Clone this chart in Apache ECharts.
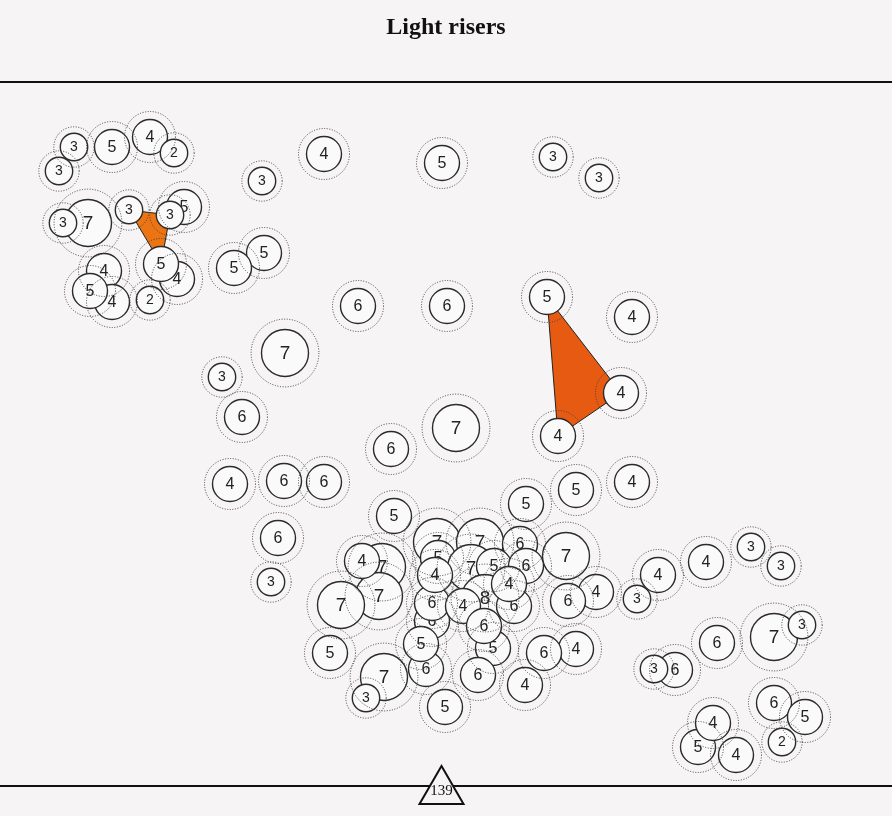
<!DOCTYPE html>
<html>
<head>
<meta charset="utf-8">
<script src="https://cdn.jsdelivr.net/npm/echarts@6/dist/echarts.min.js"></script>
<style>
html,body{margin:0;padding:0;background:#f6f4f5;}
#chart{width:892px;height:816px;}
</style>
</head>
<body>
<div id="chart"></div>
<script>
// ---- data ----
const titleText = 'Light risers';
const totalLabel = '139';
// node positions (chart units) and values, listed back-to-front
const nodeX = [
  74,112,150,174,59, 88,63,129,184,170, 177,161,104,112,90,150,
  262,324,442,553,599, 264,234,
  358,447,547,632,621,558, 285,222,242,456,391,
  230,284,324,278,271, 394,526,576,632,
  437,480,520,566, 382,379,341,362,
  438,471,494,526, 485,514,509,
  432,432,435,463,493,484,
  596,568, 426,421, 330,576,544, 384,366,478,525,445,
  658,637,706,751,781, 774,802,717,675,654, 774,805,782, 698,713,736
];
const nodeY = [
  147,147,137,153,171, 223,223,210,207,215, 279,264,271,302,291,300,
  181,154,163,157,178, 253,268,
  306,306,297,317,393,436, 353,377,417,428,449,
  484,481,482,538,582, 516,504,490,482,
  542,542,544,556, 567,596,605,561,
  558,568,566,566, 598,606,584,
  621,603,575,606,648,626,
  592,601, 669,644, 653,649,653, 677,698,675,685,707,
  575,599,562,547,566, 637,625,643,670,669, 703,717,742, 747,723,755
];
const nodeValue = [
  3,5,4,2,3, 7,3,3,5,3, 4,5,4,4,5,2,
  3,4,5,3,3, 5,5,
  6,6,5,4,4,4, 7,3,6,7,6,
  4,6,6,6,3, 5,5,5,4,
  7,7,6,7, 7,7,7,4,
  5,7,5,6, 8,6,4,
  6,6,4,4,5,6,
  4,6, 6,5, 5,4,6, 7,3,6,4,5,
  4,3,4,3,3, 7,3,6,6,3, 6,5,2, 5,4,4
];
// polygons join the centres of these nodes (indices into the arrays above)
const polygonNodes = [
  [7, 9, 11],
  [25, 27, 28]
];

// ---- styles ----
const BG = '#f6f4f5';
const polygonColors = ['#ec7412', '#e75a12'];
function radiusOf(v){ return v <= 3 ? 13.7 : (v <= 6 ? 17.5 : 23.5); }
function fontOf(v){ return v <= 3 ? 14 : (v <= 6 ? 16 : 19); }

const nodeData = nodeX.map((x, i) => [x, nodeY[i], nodeValue[i]]);
const polyData = polygonNodes.map((p, i) => [nodeX[p[0]], nodeY[p[0]], i]);

const chart = echarts.init(document.getElementById('chart'), null, {renderer: 'canvas'});
chart.setOption({
  backgroundColor: BG,
  animation: false,
  title: {
    text: titleText,
    left: 'center',
    top: 11,
    textStyle: {fontFamily: 'Liberation Serif', fontWeight: 'bold', fontSize: 24, color: '#111'}
  },
  grid: {left: 0, right: 0, top: 0, bottom: 0},
  xAxis: {type: 'value', min: 0, max: 892, show: false},
  yAxis: {type: 'value', min: 0, max: 816, inverse: true, show: false},
  graphic: [
    {type: 'line', shape: {x1: 0, y1: 82, x2: 892, y2: 82}, style: {stroke: '#111', lineWidth: 2}, z: 10},
    {type: 'line', shape: {x1: 0, y1: 786, x2: 892, y2: 786}, style: {stroke: '#111', lineWidth: 2}, z: 10},
    {type: 'polygon', shape: {points: [[441.5, 766], [419.5, 804], [463.5, 804]]},
     style: {fill: BG, stroke: '#111', lineWidth: 2}, z: 11},
    {type: 'text', x: 441.5, y: 791, z: 12,
     style: {text: totalLabel, align: 'center', verticalAlign: 'middle', font: '15px "Liberation Serif"', fill: '#111'}}
  ],
  series: [
    {
      type: 'custom', name: 'polygons', z: 1, clip: false, silent: true,
      data: polyData,
      renderItem: function(params, api){
        const idx = params.dataIndex;
        const pts = polygonNodes[idx].map(n => api.coord([nodeX[n], nodeY[n]]));
        return {type: 'polygon', shape: {points: pts},
          style: {fill: polygonColors[idx], stroke: '#222', lineWidth: 1}};
      }
    },
    {
      type: 'custom', name: 'nodes', z: 2, clip: false, silent: true,
      data: nodeData,
      renderItem: function(params, api){
        const c = api.coord([api.value(0), api.value(1)]);
        const v = api.value(2);
        const r = radiusOf(v);
        return {type: 'group', children: [
          {type: 'circle', shape: {cx: c[0], cy: c[1], r: r},
           style: {fill: '#fbfafb', stroke: '#2b2b2b', lineWidth: 1.4}},
          {type: 'text', x: c[0], y: c[1] + 0.5,
           style: {text: String(v), align: 'center', verticalAlign: 'middle',
                   font: fontOf(v) + 'px "Liberation Sans"', fill: '#222'}}
        ]};
      }
    },
    {
      type: 'custom', name: 'rings', z: 3, clip: false, silent: true,
      data: nodeData,
      renderItem: function(params, api){
        const c = api.coord([api.value(0), api.value(1)]);
        const r = radiusOf(api.value(2)) * 1.4 + 1;
        return {type: 'circle', shape: {cx: c[0], cy: c[1], r: r},
          style: {fill: null, stroke: '#444', lineWidth: 1, lineDash: [1, 1.6]}};
      }
    }
  ]
});
</script>
</body>
</html>
